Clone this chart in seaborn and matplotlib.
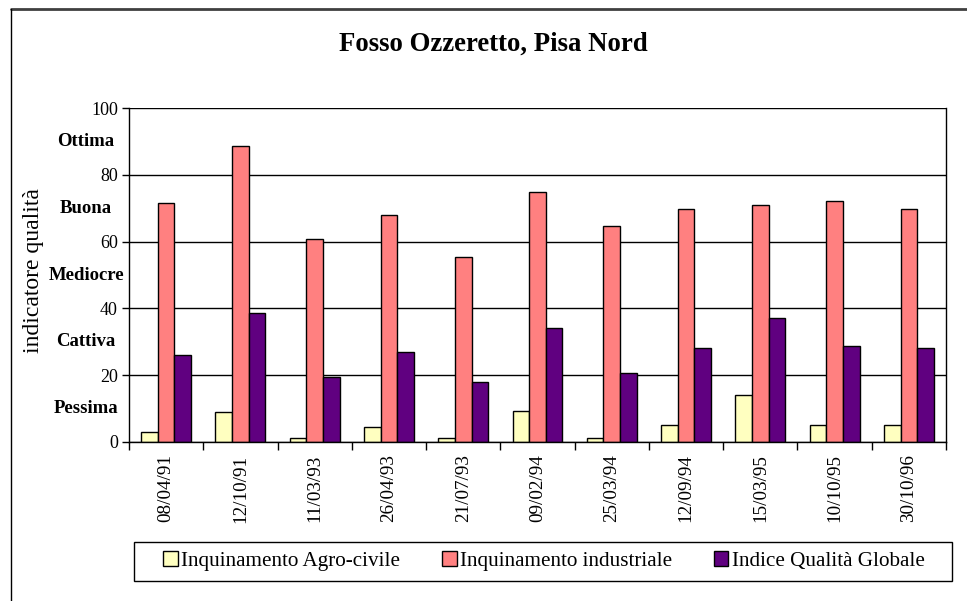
import numpy as np
import pandas as pd
import seaborn as sns
import matplotlib.pyplot as plt
from matplotlib.lines import Line2D
from matplotlib.patches import Patch, Rectangle

# dati
date = ["08/04/91", "12/10/91", "11/03/93", "26/04/93", "21/07/93", "09/02/94",
        "25/03/94", "12/09/94", "15/03/95", "10/10/95", "30/10/96"]
agro_civile = [3.0, 9.1, 1.1, 4.6, 1.1, 9.3, 1.1, 5.2, 14.1, 5.2, 5.2]
industriale = [71.5, 88.7, 60.7, 68.0, 55.5, 74.9, 64.8, 69.9, 71.1, 72.1, 69.7]
indice_globale = [26.0, 38.7, 19.4, 26.9, 17.9, 34.2, 20.6, 28.1, 37.1, 28.8, 28.1]
serie = ["Inquinamento Agro-civile", "Inquinamento industriale", "Indice Qualità Globale"]
colori = ["#FFFFC0", "#FF8080", "#600080"]
classi = ["Ottima", "Buona", "Mediocre", "Cattiva", "Pessima"]
pos_classi = [90, 70, 50, 30, 10]

df = pd.DataFrame({
    "data": date * 3,
    "serie": [serie[0]] * 11 + [serie[1]] * 11 + [serie[2]] * 11,
    "valore": agro_civile + industriale + indice_globale,
})

sns.set_style("white")
plt.rcParams["font.family"] = ["Liberation Serif", "DejaVu Serif"]
plt.rcParams["text.color"] = "black"
plt.rcParams["xtick.color"] = "black"
plt.rcParams["ytick.color"] = "black"

fig = plt.figure(figsize=(9.67, 6.01), dpi=100)
ax = fig.add_axes([129 / 967, 1 - 442 / 601, 817 / 967, 334 / 601])

sns.barplot(data=df, x="data", y="valore", hue="serie", palette=colori,
            width=0.673, gap=0, saturation=1, edgecolor="black", linewidth=1,
            ax=ax, legend=False)

ax.set_ylim(0, 100)
ax.set_xlim(-0.5, 10.5)
ax.set_yticks([0, 20, 40, 60, 80, 100])
ax.yaxis.grid(True, color="black", linewidth=1)
ax.set_axisbelow(True)
for s in ax.spines.values():
    s.set_color("black")
    s.set_linewidth(1)
ax.spines["top"].set_visible(False)

ax.set_xlabel("")
ax.set_ylabel("")
ax.tick_params(axis="y", length=5, width=1, labelsize=13, pad=3, left=True)
ax.tick_params(axis="x", which="major", length=0, labelsize=13.8, labelrotation=90, pad=9)
ax.set_xticks(np.arange(-0.5, 11, 1), minor=True)
ax.tick_params(axis="x", which="minor", length=6, width=1, bottom=True)

for c, y in zip(classi, pos_classi):
    ax.text(-0.0526, y, c, transform=ax.get_yaxis_transform(), ha="center",
            va="center", fontsize=13.5, fontweight="bold")

fig.text(34 / 967, 1 - 271 / 601, "indicatore qualità", rotation=90,
         ha="center", va="center", fontsize=17)
fig.text(493 / 967, 1 - 44 / 601, "Fosso Ozzeretto, Pisa Nord", ha="center",
         va="center", fontsize=19.3, fontweight="bold")

# legenda con cornice separata
fig.add_artist(Rectangle((134 / 967, 1 - 581 / 601), 818 / 967, 39 / 601,
                         transform=fig.transFigure, facecolor="white",
                         edgecolor="black", linewidth=1))
handles = [Patch(facecolor=c, edgecolor="black", linewidth=1) for c in colori]
leg = fig.legend(handles, serie, loc="center", ncol=3,
                 bbox_to_anchor=(544 / 967, 1 - 561 / 601),
                 fontsize=15.2, frameon=False, borderaxespad=0,
                 handlelength=0.68, handleheight=0.68, handletextpad=0.15,
                 columnspacing=2.0)

# cornice della figura
fig.add_artist(Line2D([10.5 / 967, 1], [1 - 8.5 / 601] * 2, color="#404040", linewidth=2))
fig.add_artist(Line2D([10.5 / 967] * 2, [0, 1 - 8.5 / 601], color="black", linewidth=1))

fig.savefig("out.png", dpi=100)
